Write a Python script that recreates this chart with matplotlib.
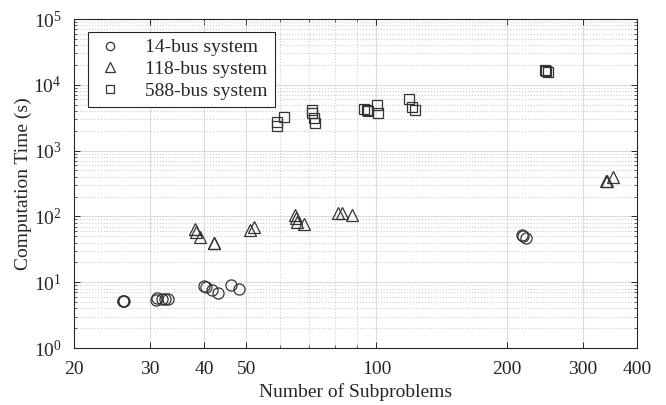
import matplotlib
matplotlib.use("Agg")
import matplotlib.pyplot as plt
from matplotlib.ticker import FixedLocator, LogLocator, NullFormatter, FixedFormatter

plt.rcParams['font.family'] = ['Liberation Serif', 'DejaVu Serif']
plt.rcParams['mathtext.fontset'] = 'custom'
plt.rcParams['mathtext.rm'] = 'Liberation Serif'
plt.rcParams['mathtext.it'] = 'Liberation Serif:italic'

# 14-bus system
bus14_x = [26.0, 26.0, 26.1, 30.9, 31.1, 31.9, 32.5, 33.0, 40.0, 40.3, 41.6, 43.0, 46.0, 48.2, 217, 218, 221.7]
bus14_y = [5.2, 5.25, 5.2, 5.36, 5.69, 5.55, 5.55, 5.6, 8.85, 8.37, 7.61, 6.78, 9.06, 7.97, 52.2, 50.5, 46.5]

# 118-bus system
bus118_x = [38.1, 38.2, 39.0, 42.1, 42.1, 51.0, 52.2, 64.8, 65.1, 65.4, 68.0, 81.6, 83.1, 88.0, 340, 340.5, 351.6]
bus118_y = [65.0, 58.5, 49.1, 39.9, 39.5, 62.1, 69.8, 105, 93.5, 83.1, 76.6, 113.8, 113.8, 105, 349, 345, 401]

# 588-bus system
bus588_x = [59.0, 59.0, 61.1, 71.1, 71.1, 71.7, 72.1, 93.8, 95.0, 95.7, 100.1, 101.0, 118.9, 121.0, 122.8, 245, 246, 249.7]
bus588_y = [2750, 2365, 3275, 4140, 3690, 3097, 2655, 4245, 4140, 4040, 4930, 3690, 6025, 4550, 4140, 16800, 16300, 15480]

xticks = [20, 30, 40, 50, 100, 200, 300, 400]
xtick_labels = ['20', '30', '40', '50', '100', '200', '300', '400']

fig = plt.figure(figsize=(6.66, 4.05), dpi=100)
ax = fig.add_axes([74/666, 1 - 348/405, (637 - 74)/666, (348 - 19)/405])

edge = '#333333'
ms = 8
ax.plot(bus14_x, bus14_y, linestyle='none', marker='o', markersize=ms,
        markerfacecolor='none', markeredgecolor=edge, markeredgewidth=0.9,
        label='14-bus system')
ax.plot(bus118_x, bus118_y, linestyle='none', marker='^', markersize=ms + 1,
        markerfacecolor='none', markeredgecolor=edge, markeredgewidth=0.9,
        label='118-bus system')
ax.plot(bus588_x, bus588_y, linestyle='none', marker='s', markersize=ms - 0.5,
        markerfacecolor='none', markeredgecolor=edge, markeredgewidth=0.9,
        label='588-bus system')

ax.set_xscale('log')
ax.set_yscale('log')
ax.set_xlim(20, 400)
ax.set_ylim(1, 1e5)

ax.xaxis.set_major_locator(FixedLocator(xticks))
ax.xaxis.set_major_formatter(FixedFormatter(xtick_labels))
ax.xaxis.set_minor_locator(FixedLocator([60, 70, 80, 90]))
ax.xaxis.set_minor_formatter(NullFormatter())
ax.yaxis.set_major_locator(LogLocator(base=10, numticks=10))
ax.yaxis.set_minor_locator(LogLocator(base=10, subs=range(2, 10), numticks=20))
ax.yaxis.set_minor_formatter(NullFormatter())

txt = '#262626'
ax.tick_params(which='both', direction='in', top=True, right=True, colors=txt,
               labelsize=14)
ax.tick_params(which='major', length=4, width=0.7)
ax.tick_params(which='minor', length=2.5, width=0.5)
ax.tick_params(axis='x', pad=9)
ax.tick_params(axis='y', pad=9)
for s in ax.spines.values():
    s.set_color(txt)
    s.set_linewidth(0.8)

ax.grid(which='major', color='#dcdcdc', linestyle='-', linewidth=0.8)
ax.grid(which='minor', color='#cfcfcf', linestyle=':', linewidth=0.8)
ax.set_axisbelow(True)

ax.set_xlabel('Number of Subproblems', fontsize=14, color=txt, labelpad=4)
ax.set_ylabel('Computation Time (s)', fontsize=14, color=txt, labelpad=1)

leg = ax.legend(loc='upper left', bbox_to_anchor=(14/563, 1 - 13/329), fontsize=14,
                frameon=True, fancybox=False, edgecolor=txt, framealpha=1,
                borderpad=0.35, labelspacing=0.22, handletextpad=1.0,
                handlelength=1.6, borderaxespad=0, markerscale=0.75)
leg.get_frame().set_linewidth(0.8)
for t in leg.get_texts():
    t.set_color(txt)

fig.savefig('out.png', dpi=100)
